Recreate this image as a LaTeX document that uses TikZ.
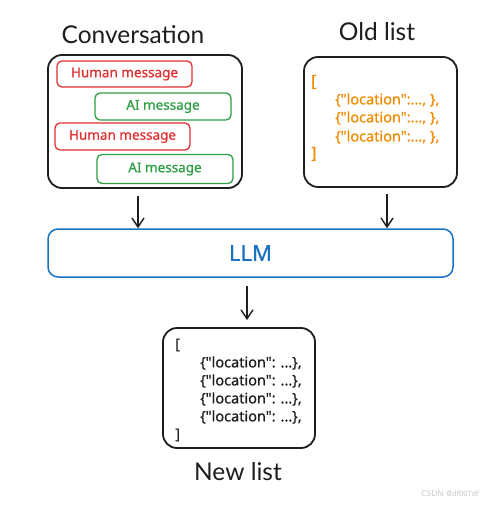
\documentclass[tikz,border=0pt]{standalone}
\usepackage{fontspec}
\setmainfont{Lato}
\newfontfamily\hand{Noto Sans}[UprightFeatures={FakeBold=0.8}]
\usetikzlibrary{arrows.meta}
\definecolor{ink}{HTML}{1E1E1E}
\definecolor{humanred}{HTML}{E03131}
\definecolor{aigreen}{HTML}{2F9E44}
\definecolor{listorange}{HTML}{F08C00}
\definecolor{llmblue}{HTML}{1971C2}
\tikzset{
  bigbox/.style={draw=ink, line width=1.8pt, rounded corners=14pt, fill=white, inner sep=0pt},
  msgbox/.style={draw=#1, line width=1.3pt, rounded corners=5pt, text=#1, minimum width=135pt, minimum height=26pt, inner sep=0pt, font=\hand\fontsize{13.5}{15}\selectfont},
  title/.style={text=ink, font=\fontsize{24.5}{28}\selectfont},
  json/.style={anchor=west, inner sep=0pt, font=\hand\fontsize{14.5}{16}\selectfont},
  flow/.style={-{Straight Barb[length=9pt,width=12pt]}, line width=1.4pt, draw=ink},
}
\begin{document}
\begin{tikzpicture}[x=1pt,y=-1pt]
\useasboundingbox[fill=white] (0,0) rectangle (490,506);
\node[title] at (133,35) (convtitle) {Conversation};
\node[title] at (377,32) (oldtitle) {Old list};
\node[title] at (238,472) (newtitle) {New list};
\node[bigbox, minimum width=194pt, minimum height=133pt] at (145,121.5) (conv) {};
\node[bigbox, minimum width=153pt, minimum height=130pt] at (380.5,122) (old) {};
\node[bigbox, minimum width=152pt, minimum height=120pt] at (239,388) (new) {};
\node[bigbox, draw=llmblue, line width=1.5pt, rounded corners=10pt, minimum width=405pt, minimum height=48pt, text=llmblue, font=\hand\fontsize{22}{26}\selectfont] at (250.5,253) (llm) {LLM};
% conversation messages
\node[msgbox=humanred] at (124.5,74) (human1) {Human message};
\node[msgbox=aigreen, minimum width=136pt, minimum height=27pt] at (163,106.5) (ai1) {AI message};
\node[msgbox=humanred, minimum height=27pt] at (122.5,136.5) (human2) {Human message};
\node[msgbox=aigreen, minimum width=136pt, minimum height=29pt] at (165,169) (ai2) {AI message};
% old list
\node[json, text=listorange, font=\hand\fontsize{16}{18}\selectfont] at (311,82) (oldopen) {[};
\node[json, text=listorange] at (335,100) (old1) {\{"location":..., \},};
\node[json, text=listorange] at (335,118) (old2) {\{"location":..., \},};
\node[json, text=listorange] at (335,137) (old3) {\{"location":..., \},};
\node[json, text=listorange, font=\hand\fontsize{16}{18}\selectfont] at (311,154) (oldclose) {]};
% new list
\node[json, text=ink] at (175,345) (newopen) {[};
\node[json, text=ink] at (200,363) (new1) {\{"location": ...\},};
\node[json, text=ink] at (200,381) (new2) {\{"location": ...\},};
\node[json, text=ink] at (200,399) (new3) {\{"location": ...\},};
\node[json, text=ink] at (200,417) (new4) {\{"location": ...\},};
\node[json, text=ink] at (175,435) (newclose) {]};
% arrows
\coordinate (c1) at (138,0);
\coordinate (c2) at (387,0);
\coordinate (c3) at (247,0);
\draw[flow, shorten <=7pt] (c1 |- conv.south) -- (c1 |- llm.north);
\draw[flow, shorten <=6pt] (c2 |- old.south) -- (c2 |- llm.north);
\draw[flow, shorten <=8pt, shorten >=7pt] (c3 |- llm.south) -- (c3 |- new.north);
\node[text=black!22, font=\sffamily\fontsize{8}{9}\selectfont] at (450,494) (mark) {CSDN @df007df};
\end{tikzpicture}
\end{document}
